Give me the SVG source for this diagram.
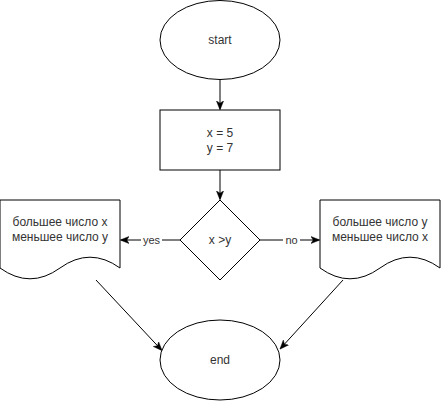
<svg xmlns="http://www.w3.org/2000/svg" width="441" height="401" viewBox="0 0 441 401">
<style>
.s{fill:#fff;stroke:#000;stroke-width:1}
.t{font-family:"Liberation Sans",Arial,sans-serif;font-size:12px;fill:#333;text-anchor:middle}
.l{font-family:"Liberation Sans",Arial,sans-serif;font-size:11px;fill:#333;text-anchor:middle}
.c{fill:none;stroke:#000;stroke-width:1}
</style>
<defs>
<marker id="a" viewBox="0 0 10 10" refX="9" refY="5" markerWidth="9" markerHeight="9" markerUnits="userSpaceOnUse" orient="auto">
<path d="M0,1 L10,5 L0,9 L2.5,5 Z" fill="#000" stroke="#000" stroke-width="0.5"/>
</marker>
</defs>
<rect width="441" height="401" fill="#fff"/>
<g id="connectors">
<path class="c" d="M220,80 L220,109" marker-end="url(#a)"/>
<path class="c" d="M220,170 L220,199" marker-end="url(#a)"/>
<path class="c" d="M180,240 L121,240" marker-end="url(#a)"/>
<path class="c" d="M260,240 L319,240" marker-end="url(#a)"/>
<path class="c" d="M96,280 L161.5,350" marker-end="url(#a)"/>
<path class="c" d="M343,280 L280.5,348.5" marker-end="url(#a)"/>
<rect x="141" y="234" width="21" height="12" fill="#fff"/>
<text class="l" x="151.5" y="244">yes</text>
<rect x="283" y="234" width="17" height="12" fill="#fff"/>
<text class="l" x="291.5" y="244">no</text>
</g>
<g id="start">
<ellipse class="s" cx="220" cy="40" rx="60" ry="39.5"/>
<text class="t" x="220" y="44">start</text>
</g>
<g id="init">
<rect class="s" x="160" y="110" width="120" height="60"/>
<text class="t" x="220" y="137">x = 5</text>
<text class="t" x="220" y="152">y = 7</text>
</g>
<g id="cond">
<path class="s" d="M220,200 L260,240 L220,280 L180,240 Z"/>
<text class="t" x="220" y="244">x &gt;y</text>
</g>
<g id="left">
<path class="s" d="M0,200 L120,200 L120,268 Q90,246.4 60,268 Q30,289.6 0,268 Z"/>
<text class="t" x="60" y="226">большее число x</text>
<text class="t" x="60" y="241">меньшее число y</text>
</g>
<g id="right">
<path class="s" d="M320,200 L440,200 L440,268 Q410,246.4 380,268 Q350,289.6 320,268 Z"/>
<text class="t" x="380" y="226">большее число y</text>
<text class="t" x="380" y="241">меньшее число x</text>
</g>
<g id="end">
<ellipse class="s" cx="220" cy="360" rx="60" ry="40"/>
<text class="t" x="220" y="364">end</text>
</g>
</svg>
